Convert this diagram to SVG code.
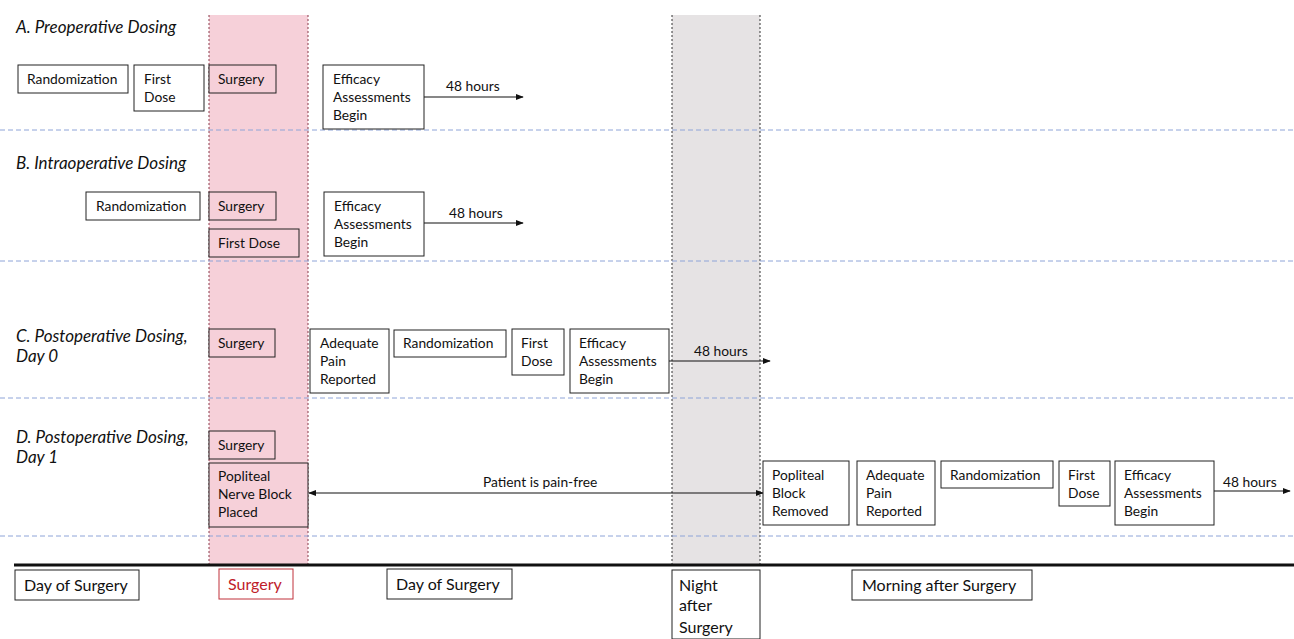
<svg xmlns="http://www.w3.org/2000/svg" width="1294" height="639" viewBox="0 0 1294 639">
<style>
text{font-family:Lato,"Liberation Sans",sans-serif;font-size:13.8px;fill:#111}
.t{font-style:italic;font-size:17px}
.b{fill:#fff;stroke:#222;stroke-width:1}
.p{fill:#f6d0d9;stroke:#222;stroke-width:1}
.sep{stroke:#8ea4d8;stroke-width:1;stroke-dasharray:5 3;fill:none}
.ln{stroke:#111;stroke-width:1.2;fill:none}
.lbl{font-size:16px}
</style>
<defs>
<marker id="ah" viewBox="0 0 10 10" refX="9" refY="5" markerWidth="8" markerHeight="8" markerUnits="userSpaceOnUse" orient="auto-start-reverse"><path d="M0,1 L10,5 L0,9 z" fill="#111"/></marker>
</defs>
<rect width="1294" height="639" fill="#fff"/>
<g id="bands">
<rect x="209" y="15" width="99" height="550" fill="#f6d0d9"/>
<line x1="209" y1="15" x2="209" y2="565" stroke="#8a3a4a" stroke-dasharray="2 2"/>
<line x1="308" y1="15" x2="308" y2="565" stroke="#8a3a4a" stroke-dasharray="2 2"/>
<rect x="672" y="15" width="88" height="550" fill="#e6e3e4"/>
<line x1="672" y1="15" x2="672" y2="565" stroke="#333" stroke-dasharray="2 2"/>
<line x1="760" y1="15" x2="760" y2="565" stroke="#333" stroke-dasharray="2 2"/>
</g>
<g id="separators">
<line class="sep" x1="0" y1="130" x2="1294" y2="130"/>
<line class="sep" x1="0" y1="261" x2="1294" y2="261"/>
<line class="sep" x1="0" y1="398" x2="1294" y2="398"/>
<line class="sep" x1="0" y1="536" x2="1294" y2="536"/>
<line x1="14" y1="565" x2="1294" y2="565" stroke="#111" stroke-width="3"/>
</g>
<g id="titles">
<text class="t" x="16" y="33">A. Preoperative Dosing</text>
<text class="t" x="16" y="169">B. Intraoperative Dosing</text>
<text class="t" x="16" y="342">C. Postoperative Dosing,</text>
<text class="t" x="16" y="362">Day 0</text>
<text class="t" x="16" y="443">D. Postoperative Dosing,</text>
<text class="t" x="16" y="463">Day 1</text>
</g>
<g id="connectors">
<line class="ln" x1="424" y1="97" x2="523" y2="97" marker-end="url(#ah)"/>
<line class="ln" x1="424" y1="223" x2="523" y2="223" marker-end="url(#ah)"/>
<line class="ln" x1="669" y1="361" x2="770" y2="361" marker-end="url(#ah)"/>
<line class="ln" x1="309" y1="493" x2="763" y2="493" marker-start="url(#ah)" marker-end="url(#ah)"/>
<line class="ln" x1="1214" y1="491" x2="1290" y2="491" marker-end="url(#ah)"/>
<text x="446" y="91">48 hours</text>
<text x="449" y="218">48 hours</text>
<text x="694" y="356">48 hours</text>
<text x="483" y="487">Patient is pain-free</text>
<text x="1223" y="487">48 hours</text>
</g>
<g id="A-randomization"><rect class="b" x="18" y="65" width="110" height="28"/><text x="27" y="84">Randomization</text></g>
<g id="A-firstdose"><rect class="b" x="134" y="65" width="70" height="46"/><text x="144" y="84">First</text><text x="144" y="102">Dose</text></g>
<g id="A-surgery"><rect class="p" x="209" y="65" width="67" height="28"/><text x="218" y="84">Surgery</text></g>
<g id="A-efficacy"><rect class="b" x="323" y="65" width="101" height="64"/><text x="333" y="84">Efficacy</text><text x="333" y="102">Assessments</text><text x="333" y="120">Begin</text></g>

<g id="B-randomization"><rect class="b" x="86" y="192" width="114" height="28"/><text x="96" y="211">Randomization</text></g>
<g id="B-surgery"><rect class="p" x="209" y="192" width="67" height="28"/><text x="218" y="211">Surgery</text></g>
<g id="B-firstdose"><rect class="p" x="209" y="229" width="90" height="28"/><text x="218" y="248">First Dose</text></g>
<g id="B-efficacy"><rect class="b" x="324" y="192" width="100" height="64"/><text x="334" y="211">Efficacy</text><text x="334" y="229">Assessments</text><text x="334" y="247">Begin</text></g>

<g id="C-surgery"><rect class="p" x="209" y="329" width="66" height="28"/><text x="218" y="348">Surgery</text></g>
<g id="C-adequate"><rect class="b" x="310" y="329" width="79" height="64"/><text x="320" y="348">Adequate</text><text x="320" y="366">Pain</text><text x="320" y="384">Reported</text></g>
<g id="C-randomization"><rect class="b" x="394" y="330" width="112" height="27"/><text x="403" y="348">Randomization</text></g>
<g id="C-firstdose"><rect class="b" x="512" y="329" width="52" height="46"/><text x="521" y="348">First</text><text x="521" y="366">Dose</text></g>
<g id="C-efficacy"><rect class="b" x="570" y="329" width="99" height="64"/><text x="579" y="348">Efficacy</text><text x="579" y="366">Assessments</text><text x="579" y="384">Begin</text></g>

<g id="D-surgery"><rect class="p" x="209" y="431" width="66" height="28"/><text x="218" y="450">Surgery</text></g>
<g id="D-nerveblock"><rect class="p" x="209" y="463" width="99" height="64"/><text x="218" y="481">Popliteal</text><text x="218" y="499">Nerve Block</text><text x="218" y="517">Placed</text></g>
<g id="D-blockremoved"><rect class="b" x="763" y="461" width="86" height="64"/><text x="772" y="480">Popliteal</text><text x="772" y="498">Block</text><text x="772" y="516">Removed</text></g>
<g id="D-adequate"><rect class="b" x="857" y="461" width="78" height="64"/><text x="866" y="480">Adequate</text><text x="866" y="498">Pain</text><text x="866" y="516">Reported</text></g>
<g id="D-randomization"><rect class="b" x="941" y="461" width="112" height="27"/><text x="950" y="480">Randomization</text></g>
<g id="D-firstdose"><rect class="b" x="1059" y="461" width="51" height="45"/><text x="1068" y="480">First</text><text x="1068" y="498">Dose</text></g>
<g id="D-efficacy"><rect class="b" x="1115" y="461" width="99" height="64"/><text x="1124" y="480">Efficacy</text><text x="1124" y="498">Assessments</text><text x="1124" y="516">Begin</text></g>

<g id="L-day1"><rect class="b" x="15" y="570" width="124" height="30"/><text class="lbl" x="24" y="591">Day of Surgery</text></g>
<g id="L-surgery"><rect x="219" y="569" width="74" height="30" fill="#fff" stroke="#c0303a"/><text class="lbl" x="228" y="590" style="fill:#c0202a">Surgery</text></g>
<g id="L-day2"><rect class="b" x="387" y="569" width="125" height="30"/><text class="lbl" x="396" y="590">Day of Surgery</text></g>
<g id="L-night"><rect class="b" x="672" y="570" width="88" height="69"/><text class="lbl" x="679" y="591">Night</text><text class="lbl" x="679" y="611">after</text><text class="lbl" x="679" y="633">Surgery</text></g>
<g id="L-morning"><rect class="b" x="852" y="570" width="180" height="30"/><text class="lbl" x="862" y="591">Morning after Surgery</text></g>
</svg>
